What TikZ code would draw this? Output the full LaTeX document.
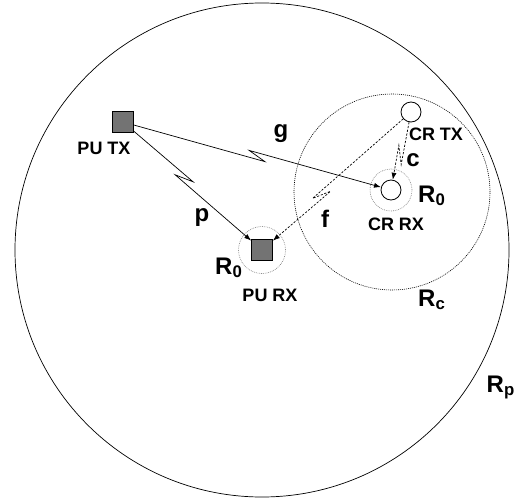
\documentclass[tikz,border=0pt]{standalone}
\usepackage{fontspec}
\setmainfont{Liberation Sans}
\usetikzlibrary{calc,arrows.meta}

\tikzset{
  tag/.style={font=\bfseries\fontsize{18}{20}\selectfont, inner sep=0pt},
  sym/.style={font=\bfseries\fontsize{24}{26}\selectfont, inner sep=0pt},
  pu/.style={draw, fill=black!55, minimum size=21pt, inner sep=0pt, line width=0.7pt},
  cr/.style={draw, fill=white, circle, minimum size=20pt, inner sep=0pt, line width=0.8pt},
  link/.style={line width=0.7pt, -{Latex[length=7pt,width=5pt]}},
  slink/.style={link, dash pattern=on 2.2pt off 1.6pt},
  rzero/.style={gray, dash pattern=on 0.8pt off 1pt, line width=0.6pt},
}

% line with a lightning jog: [style]{from}{to}{pos}{side angle}
\newcommand{\zapline}[5][]{%
  \coordinate (zM) at ($(#2)!#4!(#3)$);
  \coordinate (zF) at ($(zM)!9pt!(#3)$);
  \coordinate (zB) at ($(zM)!-9pt!(#3)$);
  \draw[#1] (#2) -- ($(zF)!3.5pt!#5:(#3)$) -- ($(zB)!-3.5pt!#5:(#3)$) -- (#3);
}

\begin{document}
\begin{tikzpicture}[x=1pt,y=-1pt]
    \useasboundingbox (0,0) rectangle (516,503);

    % coverage areas
    \coordinate (ctr) at (262,250);
    \coordinate (rcc) at (392,192);
    \draw[line width=0.7pt] (ctr) circle (247pt);
    \draw[dash pattern=on 1pt off 1pt, line width=0.6pt] (rcc) circle (98pt);

    % terminals
    \node[pu] (putx) at (123,122) {};
    \node[pu] (purx) at (262,250) {};
    \node[cr] (crtx) at (411,112) {};
    \node[cr] (crrx) at (391,190) {};

    \draw[rzero] (purx) circle (23.5pt);
    \draw[rzero] (crrx) circle (21pt);

    % links
    \zapline[link]{putx}{purx}{0.44}{90}
    \zapline[link]{putx}{crrx}{0.50}{-90}
    \zapline[slink]{crtx}{purx}{0.60}{-90}
    \zapline[slink]{crtx}{crrx}{0.55}{90}

    % labels
    \node[tag] (putxl) at (104,148) {PU TX};
    \node[tag] (purxl) at (270,295) {PU RX};
    \node[tag] (crtxl) at (436,134) {CR TX};
    \node[tag] (crrxl) at (396,224) {CR RX};

    \node[sym] (gl) at (281,134) {g};
    \node[sym] (pl) at (202,218) {p};
    \node[sym] (fl) at (325,219) {f};
    \node[sym] (cl) at (413,160) {c};

    \node[sym,anchor=base west] (r0pu) at (215,274) {R\textsubscript{0}};
    \node[sym,anchor=base west] (r0cr) at (418,202) {R\textsubscript{0}};
    \node[sym,anchor=base west] (rc) at (418,306) {R\textsubscript{c}};
    \node[sym,anchor=base east] (rp) at (515,392) {R\textsubscript{p}};
\end{tikzpicture}
\end{document}
